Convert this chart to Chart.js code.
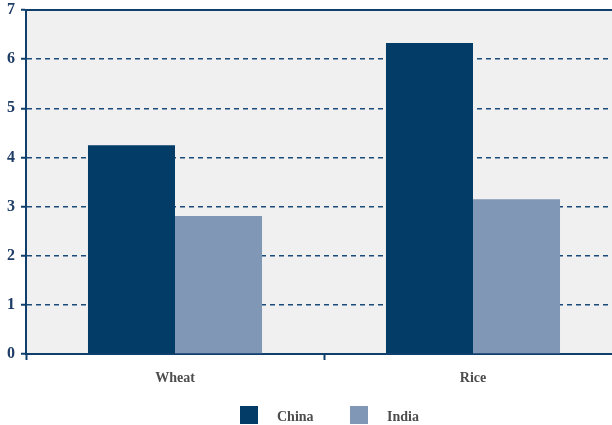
<!DOCTYPE html>
<html>
<head>
<meta charset="utf-8">
<script src="https://cdn.jsdelivr.net/npm/chart.js@4/dist/chart.umd.min.js"></script>
<style>
html,body{margin:0;padding:0;background:#fff;overflow:hidden;width:612px;height:425px;}
canvas{display:block;}
</style>
</head>
<body>
<canvas id="c" width="624" height="425"></canvas>
<script>
const categories = ["Wheat", "Rice"];
const seriesNames = ["China", "India"];
const chinaValues = [4.25, 6.33];
const indiaValues = [2.81, 3.15];
const yTicks = [0, 1, 2, 3, 4, 5, 6, 7];

const AXIS = '#0f3f6c';
const SERIF = '"Liberation Serif", "Times New Roman", serif';

const bgPlugin = {
  id: 'bg',
  beforeDraw(chart) {
    const {ctx, chartArea: a} = chart;
    ctx.save();
    ctx.fillStyle = '#f0f0f0';
    ctx.fillRect(a.left, a.top, a.right - a.left, a.bottom - a.top);
    ctx.restore();
  },
  afterDraw(chart) {
    const {ctx, chartArea: a} = chart;
    const y = chart.scales.y.getPixelForValue(yTicks[yTicks.length - 1]);
    ctx.save();
    ctx.strokeStyle = AXIS;
    ctx.lineWidth = 2;
    ctx.beginPath();
    ctx.moveTo(a.left, y);
    ctx.lineTo(a.right, y);
    ctx.stroke();
    // legend
    const items = chart.data.datasets;
    const starts = [240, 350];
    ctx.font = 'bold 14px ' + SERIF;
    ctx.textBaseline = 'middle';
    ctx.textAlign = 'left';
    items.forEach((ds, i) => {
      ctx.fillStyle = ds.backgroundColor;
      ctx.fillRect(starts[i], 406, 18, 18);
      ctx.fillStyle = '#4d4d4d';
      ctx.fillText(ds.label, starts[i] + 37, 417);
    });
    ctx.restore();
  }
};

new Chart(document.getElementById('c'), {
  type: 'bar',
  data: {
    labels: categories,
    datasets: [
      {label: seriesNames[0], data: chinaValues, backgroundColor: '#023c67'},
      {label: seriesNames[1], data: indiaValues, backgroundColor: '#8097b5'}
    ]
  },
  options: {
    responsive: false,
    animation: false,
    layout: {padding: {top: 10, right: 2, bottom: 0, left: 0}},
    plugins: {legend: {display: false}, tooltip: {enabled: false}},
    datasets: {bar: {categoryPercentage: 0.584, barPercentage: 1}},
    scales: {
      x: {
        afterFit(s) { s.height = 71; s.paddingLeft = 0; s.paddingRight = 0; },
        grid: {offset: true, drawOnChartArea: false, drawTicks: true, tickLength: 6, color: AXIS, tickWidth: 2, tickColor: AXIS},
        border: {display: true, color: AXIS, width: 2},
        ticks: {color: '#4d4d4d', font: {family: SERIF, size: 14, weight: 'bold'}, padding: 10}
      },
      y: {
        min: 0, max: 7,
        afterFit(s) { s.width = 26; s.paddingTop = 0; s.paddingBottom = 0; },
        afterBuildTicks(s) { s.ticks = yTicks.map(v => ({value: v})); },
        grid: {color: '#1b4b78', lineWidth: 1.5, tickLength: 5, tickColor: AXIS, tickWidth: 2, tickBorderDash: []},
        border: {display: true, color: AXIS, width: 2, dash: [5, 4]},
        ticks: {stepSize: 1, color: '#1f3d66', font: {family: SERIF, size: 16, weight: 'bold'}, padding: 6}
      }
    }
  },
  plugins: [bgPlugin]
});
</script>
</body>
</html>
